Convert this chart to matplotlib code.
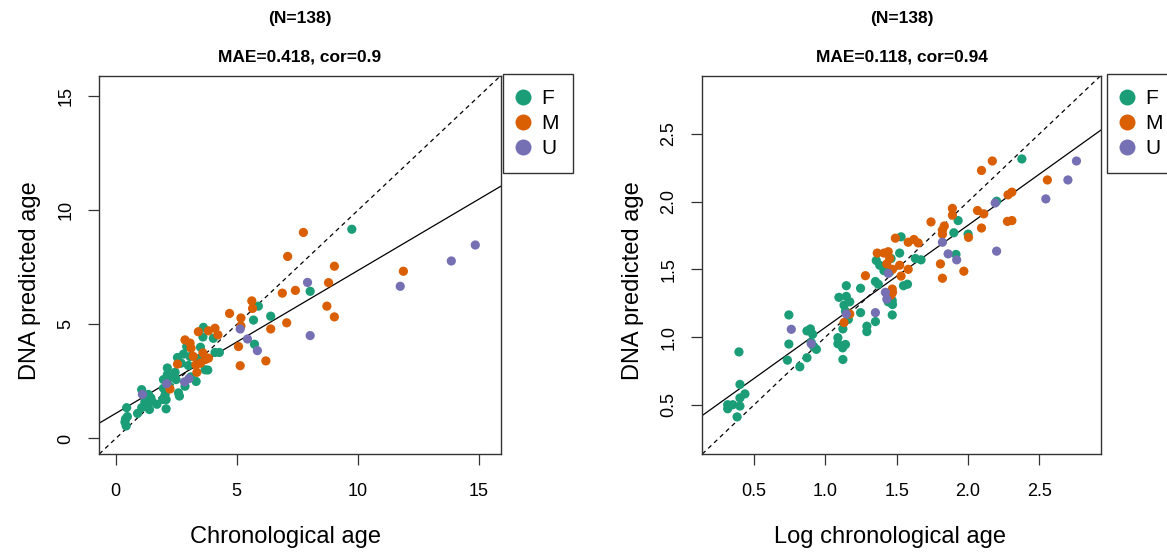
import matplotlib
matplotlib.use("Agg")
import matplotlib.pyplot as plt
from matplotlib.lines import Line2D

plt.rcParams["font.family"] = ["Liberation Sans", "DejaVu Sans"]

# ---- colours (Dark2) ----
COLORS = {"F": "#1B9E77", "M": "#D95F02", "U": "#7570B3"}

# ---- left panel: chronological age vs DNA predicted age ----
left_F_x = [0.43, 0.38, 0.48, 0.45, 0.40, 1.07, 1.07, 1.28, 1.39, 1.49, 1.35, 1.45,
            2.08, 1.94, 2.04, 1.97, 2.13, 2.13, 2.49, 2.45, 2.59, 2.63, 2.55, 2.86,
            2.93, 3.07, 3.10, 3.32, 3.69, 3.80, 3.62, 3.60, 4.03, 4.10, 4.28, 5.69,
            5.89, 5.73, 6.40, 2.08, 1.97, 9.75, 8.03, 1.70, 2.30, 2.80, 3.00, 3.40,
            2.70, 1.20, 0.90, 2.20, 3.50]
left_F_y = [0.55, 0.72, 0.96, 1.35, 0.85, 1.35, 2.14, 1.42, 1.27, 1.63, 1.93, 1.78,
            1.30, 1.71, 1.93, 2.58, 2.80, 3.09, 2.58, 2.90, 2.00, 1.86, 3.55, 2.29,
            4.03, 3.59, 2.70, 2.50, 3.01, 3.00, 4.87, 4.45, 4.39, 3.77, 3.77, 5.19,
            5.80, 4.13, 5.36, 1.70, 2.20, 9.17, 6.45, 1.50, 2.70, 3.70, 3.20, 3.50,
            3.30, 1.60, 1.10, 2.30, 4.00]

left_M_x = [2.24, 2.55, 2.86, 3.07, 3.11, 3.35, 3.31, 3.41, 3.60, 3.70, 3.83, 3.83,
            4.10, 4.22, 4.70, 5.07, 5.14, 5.17, 5.17, 5.62, 5.65, 6.20, 6.40, 6.88,
            7.06, 7.10, 7.75, 9.03, 8.79, 7.42, 8.72, 9.03, 11.88, 3.50, 3.20]
left_M_y = [2.17, 3.26, 4.32, 4.18, 3.96, 2.90, 3.23, 4.68, 3.75, 3.46, 3.52, 4.72,
            4.83, 4.54, 5.48, 4.03, 3.19, 5.28, 4.93, 6.03, 5.70, 3.40, 4.80, 6.37,
            5.07, 7.98, 9.03, 7.55, 6.83, 6.49, 5.80, 5.33, 7.33, 3.30, 3.60]

left_U_x = [1.10, 2.10, 2.84, 3.02, 5.14, 5.44, 5.85, 7.92, 8.03, 11.75, 13.86, 14.85]
left_U_y = [1.93, 2.40, 2.48, 2.62, 4.80, 4.36, 3.85, 6.84, 4.51, 6.67, 7.78, 8.48]

# ---- right panel: log chronological age vs DNA predicted age ----
right_F_x = [0.314, 0.314, 0.35, 0.38, 0.40, 0.40, 0.435, 0.40, 0.393, 0.743, 0.743,
             0.733, 0.82, 0.87, 0.87, 0.894, 0.91, 0.90, 0.936, 0.917, 1.087, 1.087,
             1.12, 1.14, 1.122, 1.122, 1.094, 1.146, 1.146, 1.17, 1.13, 1.14, 1.16,
             1.246, 1.246, 1.29, 1.29, 1.35, 1.35, 1.37, 1.468, 1.468, 1.43, 1.356,
             1.38, 1.41, 1.46, 1.52, 2.377, 2.20, 1.93, 1.90, 2.00, 1.915, 1.53,
             1.63, 1.67, 1.45, 1.547, 1.575, 1.44, 1.47]
right_F_y = [0.50, 0.47, 0.50, 0.41, 0.49, 0.55, 0.58, 0.65, 0.89, 1.163, 0.948,
             0.829, 0.78, 0.847, 1.045, 1.06, 1.02, 0.96, 0.909, 0.93, 0.995, 0.95,
             0.92, 0.945, 0.834, 1.06, 1.293, 1.379, 1.30, 1.26, 1.235, 1.19, 1.13,
             1.18, 1.36, 1.08, 1.04, 1.114, 1.41, 1.39, 1.163, 1.27, 1.32, 1.565,
             1.53, 1.49, 1.58, 1.62, 2.315, 2.003, 1.86, 1.77, 1.76, 1.61, 1.74,
             1.58, 1.57, 1.48, 1.379, 1.39, 1.26, 1.24]

right_M_x = [1.13, 1.17, 1.28, 1.363, 1.41, 1.43, 1.47, 1.47, 1.46, 1.49, 2.17, 2.094,
             2.556, 2.307, 2.28, 2.276, 2.307, 2.066, 2.11, 2.094, 2.003, 1.89, 1.89,
             1.833, 1.82, 1.82, 1.74, 1.806, 1.82, 1.97, 1.58, 1.62, 1.65, 1.44, 1.45,
             1.52, 1.58, 1.53, 1.468]
right_M_y = [1.107, 1.17, 1.453, 1.62, 1.62, 1.54, 1.50, 1.33, 1.31, 1.73, 2.30, 2.23,
             2.16, 2.07, 2.05, 1.854, 1.86, 1.934, 1.91, 1.805, 1.736, 1.95, 1.90,
             1.82, 1.79, 1.76, 1.85, 1.54, 1.434, 1.486, 1.70, 1.72, 1.695, 1.63, 1.58,
             1.53, 1.50, 1.45, 1.354]

right_U_x = [0.76, 0.90, 1.146, 1.35, 1.42, 1.44, 2.76, 2.70, 2.545, 2.19, 2.20, 1.82,
             1.86, 1.92, 1.43]
right_U_y = [1.057, 0.95, 1.17, 1.18, 1.33, 1.47, 2.30, 2.16, 2.02, 1.99, 1.634, 1.70,
             1.614, 1.57, 1.28]

# regression fits (intercept, slope)
left_fit = (1.10, 0.626)
right_fit = (0.318, 0.754)

left_ticks = [0, 5, 10, 15]
right_ticks = [0.5, 1.0, 1.5, 2.0, 2.5]
left_ticklabels = ["0", "5", "10", "15"]
right_ticklabels = ["0.5", "1.0", "1.5", "2.0", "2.5"]

W, H = 1167, 552
fig = plt.figure(figsize=(W / 100, H / 100), dpi=100)


def fx(px):
    return px / W


def fy(py):
    return 1 - py / H


def panel(rect, data, fit, lims, ticks, ticklabels, title2, xlabel, xlab_cx, leg_x):
    ax = fig.add_axes(rect)
    for key, (xs, ys) in data.items():
        ax.scatter(xs, ys, s=44, color=COLORS[key], edgecolors="none", zorder=3)
    ax.axline((0, 0), slope=1, color="black", lw=0.9, dashes=(3.5, 3), zorder=2)
    ax.axline((0, fit[0]), slope=fit[1], color="black", lw=0.9, zorder=2)
    ax.set_xlim(*lims)
    ax.set_ylim(*lims)
    ax.set_xticks(ticks)
    ax.set_xticklabels(ticklabels)
    ax.set_yticks(ticks)
    ax.set_yticklabels(ticklabels, rotation=90, va="center")
    ax.tick_params(length=8, width=0.9, labelsize=13, color="#333333")
    ax.tick_params(axis="x", pad=13)
    ax.tick_params(axis="y", pad=10)
    for sp in ax.spines.values():
        sp.set_linewidth(1.0)
        sp.set_color("#333333")

    cx = rect[0] + rect[2] / 2
    fig.text(cx, fy(18), "(N=138)", ha="center", va="center",
             fontsize=12.5, fontweight="bold")
    fig.text(cx, fy(57), title2, ha="center", va="center",
             fontsize=12.5, fontweight="bold")
    fig.text(fx(xlab_cx), fy(537), xlabel, ha="center", va="center", fontsize=17)
    fig.text(rect[0] - fx(69), fy(281), "DNA predicted age", ha="center",
             va="center", rotation=90, fontsize=17)

    handles = [Line2D([], [], ls="none", marker="o", markersize=11.5,
                      markerfacecolor=COLORS[k], markeredgecolor="none", label=k)
               for k in data]
    leg = ax.legend(handles=handles, loc="upper left",
                    bbox_to_anchor=(fx(leg_x), fy(74)),
                    bbox_transform=fig.transFigure, fontsize=15, frameon=True,
                    fancybox=False, edgecolor="black", borderpad=0.72,
                    handlelength=0.45, handletextpad=0.65, labelspacing=0.29,
                    borderaxespad=0)
    leg.get_frame().set_linewidth(1.0)
    return ax


panel([fx(99.3), fy(454), fx(401.4), (454 - 75.7) / H],
      {"F": (left_F_x, left_F_y), "M": (left_M_x, left_M_y), "U": (left_U_x, left_U_y)},
      left_fit, (-0.68, 15.9), left_ticks, left_ticklabels,
      "MAE=0.418, cor=0.9", "Chronological age", 286, 503)

panel([fx(702.3), fy(454), fx(398.4), (454 - 75.7) / H],
      {"F": (right_F_x, right_F_y), "M": (right_M_x, right_M_y), "U": (right_U_x, right_U_y)},
      right_fit, (0.136, 2.93), right_ticks, right_ticklabels,
      "MAE=0.118, cor=0.94", "Log chronological age", 890, 1107)

fig.savefig("out.png", dpi=100)
